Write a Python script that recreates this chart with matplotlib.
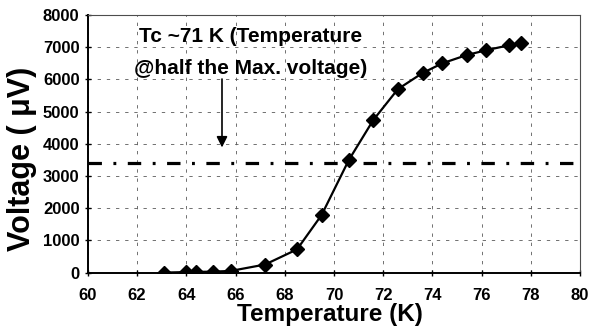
import numpy as np
import matplotlib.pyplot as plt

plt.rcParams['font.family'] = ['Liberation Sans', 'DejaVu Sans']

# measured points: temperature (K) vs voltage (uV)
temp = [63.1, 64.0, 64.4, 65.1, 65.8, 67.2, 68.5, 69.5, 70.6, 71.6,
        72.6, 73.6, 74.4, 75.4, 76.2, 77.1, 77.6]
volt = [0, 15, 20, 30, 50, 250, 720, 1790, 3490, 4740,
        5700, 6200, 6500, 6760, 6910, 7060, 7130]
half_max = 3400
x_ticks = [60, 62, 64, 66, 68, 70, 72, 74, 76, 78, 80]
y_ticks = [0, 1000, 2000, 3000, 4000, 5000, 6000, 7000, 8000]

fig = plt.figure(figsize=(5.9, 3.28), dpi=100, facecolor='white')
ax = fig.add_axes([0.149, 0.169, 0.834, 0.785])

ax.grid(True, ls=(0, (4, 7)), color='0.35', lw=0.6)
ax.set_axisbelow(True)

ax.axhline(half_max, color='black', lw=2.3, ls=(0, (4.2, 3.6, 0.9, 3.6)))
ax.plot(temp, volt, color='black', lw=1.6, marker='D', ms=7.5,
        markerfacecolor='black', zorder=3)

ax.text(66.63, 7350, 'Tc ~71 K (Temperature', ha='center', va='center',
        fontsize=15, fontweight='bold')
ax.text(66.63, 6350, '@half the Max. voltage)', ha='center', va='center',
        fontsize=15, fontweight='bold')
ax.annotate('', xy=(65.45, 3800), xytext=(65.45, 6100),
            arrowprops=dict(arrowstyle='-|>', color='black', lw=1.2,
                            mutation_scale=16))

ax.set_xlim(60, 80)
ax.set_ylim(0, 8000)
ax.set_xticks(x_ticks)
ax.set_yticks(y_ticks)
ax.tick_params(direction='inout', length=4, width=1, labelsize=12, pad=4)
ax.tick_params(axis='x', pad=9)
for lab in ax.get_xticklabels() + ax.get_yticklabels():
    lab.set_fontweight('bold')

ax.set_xlabel('Temperature (K)', fontsize=17.5, fontweight='bold')
ax.set_ylabel('Voltage ( \u03bcV)', fontsize=22, fontweight='bold')
ax.xaxis.set_label_coords(0.492, -0.118)
ax.yaxis.set_label_coords(-0.104, 0.44)

for side in ['left', 'bottom']:
    ax.spines[side].set_linewidth(1.4)
for side in ['top', 'right']:
    ax.spines[side].set_linewidth(0.8)
    ax.spines[side].set_color('0.3')

fig.savefig('out.png', dpi=100, facecolor='white')
